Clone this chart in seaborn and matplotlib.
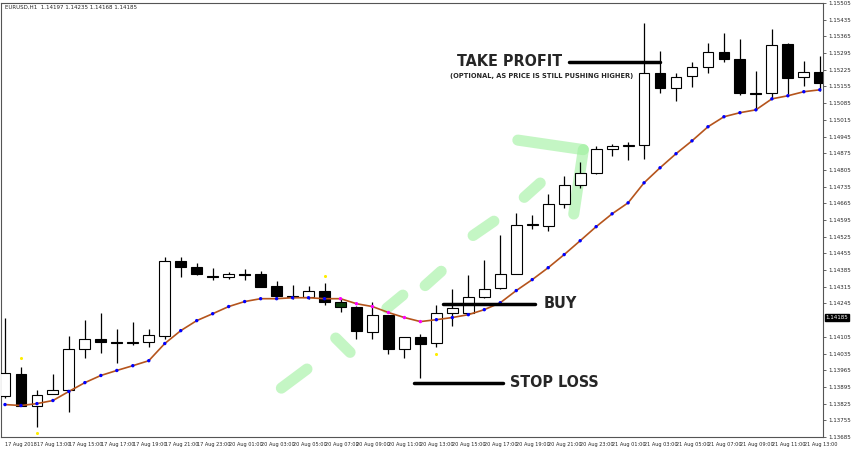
import matplotlib
matplotlib.use("Agg")
import matplotlib.pyplot as plt
import numpy as np
import pandas as pd
import seaborn as sns

# EURUSD H1 candles, prices
opens = [1.13855, 1.13951, 1.13817, 1.13867, 1.13880, 1.14056, 1.14098, 1.14085, 1.14081, 1.14085,
         1.14110, 1.14424, 1.14399, 1.14362, 1.14357, 1.14370, 1.14370, 1.14320, 1.14278, 1.14274,
         1.14299, 1.14253, 1.14232, 1.14127, 1.14198, 1.14056, 1.14106, 1.14081, 1.14207, 1.14207,
         1.14274, 1.14311, 1.14370, 1.14575, 1.14571, 1.14663, 1.14743, 1.14793, 1.14894, 1.14906,
         1.14910, 1.15212, 1.15149, 1.15200, 1.15237, 1.15300, 1.15271, 1.15128, 1.15128, 1.15334,
         1.15195, 1.15216]
highs = [1.14186, 1.13980, 1.13884, 1.13951, 1.14110, 1.14177, 1.14207, 1.14139, 1.14169, 1.14139,
         1.14441, 1.14441, 1.14416, 1.14395, 1.14378, 1.14391, 1.14383, 1.14341, 1.14324, 1.14320,
         1.14332, 1.14265, 1.14236, 1.14253, 1.14198, 1.14106, 1.14119, 1.14240, 1.14307, 1.14366,
         1.14429, 1.14533, 1.14626, 1.14617, 1.14705, 1.14781, 1.14839, 1.14906, 1.14915, 1.14923,
         1.15422, 1.15304, 1.15212, 1.15258, 1.15338, 1.15380, 1.15355, 1.15221, 1.15396, 1.15338,
         1.15262, 1.15283]
lows = [1.13850, 1.13817, 1.13729, 1.13867, 1.13788, 1.14018, 1.14039, 1.13997, 1.14072, 1.14064,
        1.14098, 1.14357, 1.14366, 1.14345, 1.14349, 1.14345, 1.14315, 1.14274, 1.14265, 1.14265,
        1.14240, 1.14211, 1.14098, 1.14098, 1.14031, 1.14018, 1.13934, 1.14064, 1.14152, 1.14207,
        1.14269, 1.14307, 1.14370, 1.14558, 1.14550, 1.14646, 1.14730, 1.14789, 1.14864, 1.14848,
        1.14852, 1.15128, 1.15095, 1.15153, 1.15212, 1.15258, 1.15120, 1.15057, 1.15103, 1.15124,
        1.15158, 1.15137]
closes = [1.13955, 1.13817, 1.13863, 1.13880, 1.14056, 1.14098, 1.14085, 1.14081, 1.14085, 1.14114,
          1.14424, 1.14399, 1.14370, 1.14357, 1.14370, 1.14366, 1.14315, 1.14278, 1.14274, 1.14299,
          1.14253, 1.14232, 1.14131, 1.14198, 1.14056, 1.14106, 1.14077, 1.14207, 1.14227, 1.14274,
          1.14307, 1.14370, 1.14575, 1.14580, 1.14663, 1.14743, 1.14793, 1.14894, 1.14906, 1.14910,
          1.15212, 1.15149, 1.15195, 1.15237, 1.15300, 1.15271, 1.15128, 1.15124, 1.15329, 1.15191,
          1.15216, 1.15170]
ma = [1.13821, 1.13817, 1.13825, 1.13838, 1.13876, 1.13913, 1.13943, 1.13964, 1.13984, 1.14005,
      1.14077, 1.14131, 1.14173, 1.14202, 1.14232, 1.14253, 1.14265, 1.14265, 1.14269, 1.14269,
      1.14265, 1.14265, 1.14244, 1.14232, 1.14207, 1.14186, 1.14169, 1.14177, 1.14186, 1.14198,
      1.14219, 1.14248, 1.14299, 1.14345, 1.14395, 1.14450, 1.14508, 1.14567, 1.14621, 1.14667,
      1.14751, 1.14814, 1.14873, 1.14927, 1.14986, 1.15028, 1.15045, 1.15057, 1.15103, 1.15116,
      1.15133, 1.15141]
ma_down = list(range(21, 27))  # MA points drawn in magenta
fractal_idx = [1, 2, 20, 27]
fractal_price = [1.14018, 1.13700, 1.14362, 1.14035]

time_labels = ["17 Aug 2018", "17 Aug 13:00", "17 Aug 15:00", "17 Aug 17:00", "17 Aug 19:00",
               "17 Aug 21:00", "17 Aug 23:00", "20 Aug 01:00", "20 Aug 03:00", "20 Aug 05:00",
               "20 Aug 07:00", "20 Aug 09:00", "20 Aug 11:00", "20 Aug 13:00", "20 Aug 15:00",
               "20 Aug 17:00", "20 Aug 19:00", "20 Aug 21:00", "20 Aug 23:00", "21 Aug 01:00",
               "21 Aug 03:00", "21 Aug 05:00", "21 Aug 07:00", "21 Aug 09:00", "21 Aug 11:00",
               "21 Aug 13:00"]
price_ticks = [1.15505 - 0.0007 * k for k in range(27) if k != 19]
last_price = 1.14185

df = pd.DataFrame({"i": np.arange(len(opens)), "o": opens, "h": highs,
                   "l": lows, "c": closes, "ma": ma})

sns.set_style("white")
fig = plt.figure(figsize=(8.52, 4.5), dpi=100)
ax = fig.add_axes([1 / 852, 13 / 450, 822 / 852, 434 / 450])

# wicks and bodies
ax.vlines(df["i"], df["l"], df["h"], color="black", lw=0.9, zorder=2)
bull = df["c"] >= df["o"]
colors = np.where(bull, "white", "black").astype(object)
colors[21] = "#0b3d0b"
ax.bar(df["i"], (df["c"] - df["o"]).abs().clip(lower=0.00003),
       bottom=np.minimum(df["o"], df["c"]), width=0.68, color=colors,
       edgecolor="black", lw=0.8, zorder=3)

# moving average
sns.lineplot(data=df, x="i", y="ma", color="#b5541c", lw=1.2, ax=ax, zorder=4)
dot_col = ["#ff00ff" if k in ma_down else "#0000ff" for k in range(len(ma))]
ax.scatter(df["i"], df["ma"], c=dot_col, s=6, zorder=5, linewidths=0)
ax.scatter(fractal_idx, fractal_price, c="#ffee00", s=5, zorder=5, linewidths=0)

# hand drawn green arrow
green = dict(color="#9ef09e", lw=8, alpha=0.6, solid_capstyle="round", zorder=1)
strokes = [((17.3, 1.13890), (18.9, 1.13970)),
           ((20.7, 1.14100), (21.6, 1.14040)),
           ((23.9, 1.14225), (24.9, 1.14280)),
           ((26.3, 1.14320), (27.3, 1.14380)),
           ((29.3, 1.14530), (30.6, 1.14590)),
           ((32.5, 1.14690), (33.5, 1.14750)),
           ((32.1, 1.14930), (36.2, 1.14890)),
           ((36.2, 1.14890), (35.6, 1.14620))]
for (x0, y0), (x1, y1) in strokes:
    ax.plot([x0, x1], [y0, y1], **green)

# trade levels
font = dict(fontweight="bold", family="DejaVu Sans", fontstretch="condensed")
ax.plot([35.3, 41.0], [1.15258, 1.15258], color="black", lw=2.5, zorder=6)
ax.text(34.9, 1.15258, "TAKE PROFIT", ha="right", va="center", fontsize=11.5, **font)
ax.text(33.6, 1.15200, "(OPTIONAL, AS PRICE IS STILL PUSHING HIGHER)", ha="center",
        va="center", fontsize=5.3, **font)
ax.plot([27.4, 33.2], [1.14244, 1.14244], color="black", lw=2.5, zorder=6)
ax.text(33.7, 1.14244, "BUY", ha="left", va="center", fontsize=11.5, **font)
ax.plot([25.6, 31.2], [1.13913, 1.13913], color="black", lw=2.5, zorder=6)
ax.text(31.6, 1.13913, "STOP LOSS", ha="left", va="center", fontsize=11.5, **font)

ax.text(0.005, 0.995, "EURUSD,H1  1.14197 1.14235 1.14168 1.14185", transform=ax.transAxes,
        ha="left", va="top", fontsize=4)

ax.set_xlim(-0.25, 51.2)
ax.set_ylim(1.13686, 1.15505)
ax.yaxis.tick_right()
ax.set_yticks(price_ticks)
ax.set_yticklabels([f"{p:.5f}" for p in price_ticks], fontsize=4)
ax.set_xticks(np.arange(0, 52, 2))
ax.set_xticklabels(time_labels, fontsize=3.6, ha="left")
ax.tick_params(axis="both", length=2, width=0.5, pad=1.5)
ax.text(1.003, last_price, f"{last_price:.5f}", transform=ax.get_yaxis_transform(),
        ha="left", va="center", fontsize=4, color="white",
        bbox=dict(boxstyle="square,pad=0.15", fc="black", ec="black"))
ax.set_xlabel("")
ax.set_ylabel("")
for s in ax.spines.values():
    s.set_color("#555555")
    s.set_linewidth(0.8)

fig.savefig("out.png", dpi=100)
